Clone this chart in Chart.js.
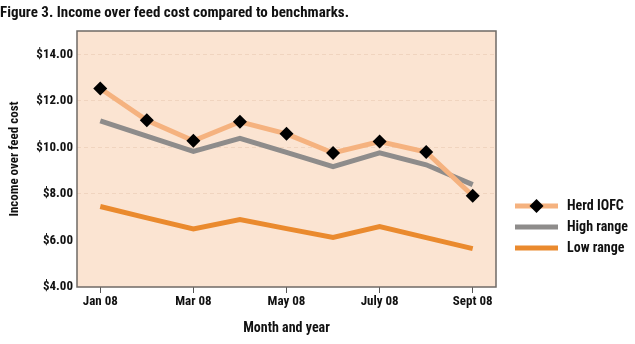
<!DOCTYPE html>
<html>
<head>
<meta charset="utf-8">
<script src="https://cdn.jsdelivr.net/npm/chart.js@4"></script>
<style>
html,body{margin:0;padding:0;background:#fff;}
#wrap{width:635px;height:344px;position:relative;}
</style>
</head>
<body>
<div id="wrap"><canvas id="c" width="635" height="344"></canvas></div>
<script>
const months = ['Jan 08','Feb 08','Mar 08','Apr 08','May 08','June 08','July 08','Aug 08','Sept 08'];
const shownMonths = ['Jan 08','Mar 08','May 08','July 08','Sept 08'];
const herdIOFC = [12.53, 11.16, 10.28, 11.10, 10.58, 9.76, 10.25, 9.80, 7.92];
const highRange = [11.14, 10.48, 9.83, 10.39, 9.78, 9.17, 9.76, 9.25, 8.40];
const lowRange = [7.46, 6.97, 6.49, 6.90, 6.51, 6.13, 6.60, 6.12, 5.65];
const yTicks = [4, 6, 8, 10, 12, 14];
const seriesNames = ['Herd IOFC', 'High range', 'Low range'];

const FONT = "'Liberation Sans Narrow', 'Roboto Condensed', 'DejaVu Sans Condensed', sans-serif";
const C_HERD = '#F5B27F';
const C_HIGH = '#8E8C8B';
const C_LOW = '#EA8A2E';
const C_BG = '#FBE4D2';

const bgPlugin = {
  id: 'plotBg',
  beforeDraw(chart) {
    const a = chart.chartArea, ctx = chart.ctx;
    ctx.save();
    ctx.fillStyle = C_BG;
    ctx.fillRect(a.left, a.top, a.right - a.left, a.bottom - a.top);
    ctx.restore();
  },
  afterDatasetsDraw(chart) {
    const a = chart.chartArea, ctx = chart.ctx;
    ctx.save();
    ctx.strokeStyle = '#6f6a66';
    ctx.lineWidth = 1.5;
    ctx.strokeRect(a.left, a.top, a.right - a.left, a.bottom - a.top);
    ctx.restore();
  }
};

const legendPlugin = {
  id: 'customLegend',
  afterDraw(chart) {
    const ctx = chart.ctx;
    const colors = [C_HERD, C_HIGH, C_LOW];
    const x0 = 515, x1 = 558, ys = [206, 227, 248];
    ctx.save();
    seriesNames.forEach((name, i) => {
      const y = ys[i];
      ctx.strokeStyle = colors[i];
      ctx.lineWidth = 5;
      ctx.beginPath(); ctx.moveTo(x0, y); ctx.lineTo(x1, y); ctx.stroke();
      if (i === 0) {
        ctx.fillStyle = '#000';
        ctx.beginPath();
        const cx = (x0 + x1) / 2, r = 7;
        ctx.moveTo(cx, y - r); ctx.lineTo(cx + r, y); ctx.lineTo(cx, y + r); ctx.lineTo(cx - r, y); ctx.closePath();
        ctx.fill();
      }
      ctx.fillStyle = '#111';
      ctx.font = 'bold 14px ' + FONT;
      ctx.textBaseline = 'middle';
      ctx.textAlign = 'left';
      ctx.fillText(name, 567, y);
    });
    ctx.restore();
  }
};

new Chart(document.getElementById('c'), {
  type: 'line',
  data: {
    labels: months,
    datasets: [
      { label: seriesNames[2], data: lowRange, borderColor: C_LOW, borderWidth: 5, pointRadius: 0, tension: 0, order: 3 },
      { label: seriesNames[1], data: highRange, borderColor: C_HIGH, borderWidth: 5, pointRadius: 0, tension: 0, order: 2 },
      { label: seriesNames[0], data: herdIOFC, borderColor: C_HERD, borderWidth: 5, pointStyle: 'rectRot', pointRadius: 7,
        pointBackgroundColor: '#000', pointBorderColor: '#000', pointBorderWidth: 0, tension: 0, order: 1 }
    ]
  },
  options: {
    responsive: false,
    animation: false,
    layout: { padding: { left: 0, right: 139, top: 0, bottom: 0 } },
    plugins: {
      legend: { display: false },
      tooltip: { enabled: false },
      title: {
        display: true,
        text: 'Figure 3. Income over feed cost compared to benchmarks.',
        align: 'start',
        color: '#111',
        font: { family: FONT, size: 15, weight: 'bold' },
        padding: { top: 4, bottom: 9 }
      }
    },
    scales: {
      x: {
        offset: true,
        border: { display: false },
        grid: {
          drawOnChartArea: false,
          drawTicks: true,
          tickLength: 6,
          offset: false,
          color: (ctx) => (ctx.index % 2 === 0 ? '#555' : 'rgba(0,0,0,0)')
        },
        ticks: {
          autoSkip: false,
          maxRotation: 0,
          padding: 1,
          color: '#111',
          font: { family: FONT, size: 13, weight: 'bold' },
          callback: function (v, i) { const l = this.getLabelForValue(v); return shownMonths.includes(l) ? l : ''; }
        },
        title: {
          display: true,
          text: 'Month and year',
          color: '#111',
          font: { family: FONT, size: 14, weight: 'bold' },
          padding: { top: 8, bottom: 7 }
        },
        afterFit(s) { s.height = 57; }
      },
      y: {
        min: 4,
        max: 15,
        afterBuildTicks(s) { s.ticks = yTicks.map(v => ({ value: v })); },
        grid: {
          drawTicks: false,
          color: (ctx) => (ctx.tick && ctx.tick.value > 6 ? 'rgba(238,210,188,0.9)' : 'rgba(0,0,0,0)'),
          lineWidth: 1
        },
        border: { display: false, dash: [4, 3] },
        ticks: {
          padding: 4,
          color: '#111',
          font: { family: FONT, size: 13, weight: 'bold' },
          callback: (v) => '$' + Number(v).toFixed(2)
        },
        title: {
          display: true,
          text: 'Income over feed cost',
          color: '#111',
          font: { family: FONT, size: 13, weight: 'bold' },
          padding: { top: 7, bottom: 0 }
        },
        afterFit(s) { s.width = 77; }
      }
    }
  },
  plugins: [bgPlugin, legendPlugin]
});
</script>
</body>
</html>
